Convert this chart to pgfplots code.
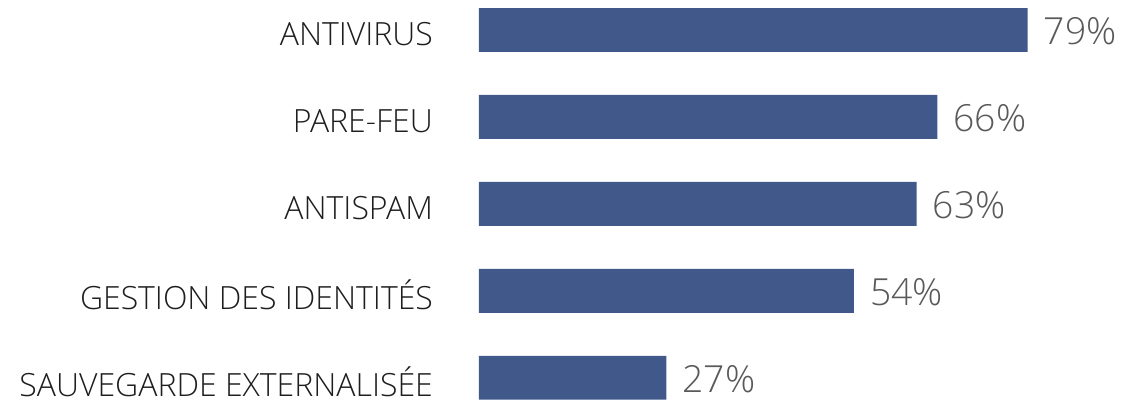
\documentclass[border=0pt]{standalone}
\usepackage{fontspec}
\setmainfont{Open Sans}[UprightFont=* Light]
\usepackage{pgfplots}
\pgfplotsset{compat=1.18}
\definecolor{barblue}{RGB}{64,89,138}
\definecolor{labgray}{RGB}{30,30,30}
\definecolor{valgray}{RGB}{89,89,89}
\begin{document}
\begin{tikzpicture}
\begin{axis}[
  scale only axis,
  width=479.6pt, height=303pt,
  xmin=0, xmax=92,
  ymin=-0.3, ymax=4.345,
  xbar, bar width=33pt,
  axis line style={draw=none},
  tick style={draw=none},
  xtick=\empty,
  ytick={0,1,2,3,4},
  yticklabels={SAUVEGARDE EXTERNALISÉE, GESTION DES IDENTITÉS, ANTISPAM, PARE-FEU, ANTIVIRUS},
  yticklabel style={anchor=east, inner sep=0pt, xshift=-30pt, yshift=-3pt, text=labgray, font=\fontsize{24pt}{28pt}\selectfont},
  point meta=explicit symbolic,
  nodes near coords={\pgfplotspointmeta\%},
  nodes near coords style={anchor=west, inner sep=0pt, xshift=12pt, yshift=-1pt, text=valgray, font=\fontsize{28pt}{32pt}\selectfont},
  clip=false,
]
\addplot[fill=barblue, draw=none] coordinates {
  (27,0) [27]
  (54,1) [54]
  (63,2) [63]
  (66,3) [66]
  (79,4) [79]
};
\coordinate (bl) at (rel axis cs:0,0);
\coordinate (tr) at (rel axis cs:1,1);
\end{axis}
\pgfresetboundingbox
\path ([xshift=-359.25pt]bl) rectangle ([xshift=3pt]tr);
\end{tikzpicture}
\end{document}
